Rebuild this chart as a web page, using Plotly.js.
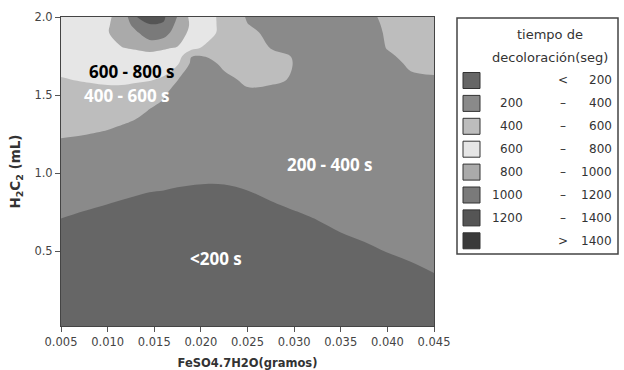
<!DOCTYPE html>
<html><head><meta charset="utf-8">
<script src="https://cdn.plot.ly/plotly-3.0.1.min.js"></script>
<style>html,body{margin:0;padding:0;background:#fff}#chart{width:624px;height:370px}</style>
</head><body><div id="chart"></div>
<script>
// FeSO4.7H2O (gramos) grid
const feso4 = [0.005,0.0075,0.010,0.0115,0.013,0.0145,0.016,0.0175,0.019,0.0205,0.0225,0.025,0.0275,0.030,0.0325,0.035,0.0375,0.040,0.0425,0.045];
// H2O2 (mL) grid
const h2o2 = [0,0.25,0.5,0.75,1.0,1.2,1.3,1.4,1.5,1.6,1.7,1.75,1.8,1.9,1.95,2.0];
// tiempo de decoloración (seg): one column per feso4 value, along h2o2
const tiempo = [
  [60,100,150,210,300,390,432,480,540,590,657,674,690,700,705,710],
  [50,90,140,198,270,380,425,475,530,614,660,680,700,720,730,740],
  [40,80,130,185,260,365,411,460,550,628,700,730,760,795,790,780],
  [35,75,125,180,245,350,396,446,540,634,720,757,795,845,850,850],
  [30,70,120,175,236,330,380,424,540,618,720,765,809,960,1078,1190],
  [25,65,115,170,229,320,360,396,436,618,700,770,828,1152,1190,1290],
  [22,62,112,165,228,310,340,370,411,570,720,770,808,1103,1180,1230],
  [20,60,110,160,223,280,300,320,340,404,622,700,790,880,940,990],
  [18,58,108,158,219,250,270,290,310,330,360,405,649,760,770,740],
  [16,56,106,156,217,245,265,285,305,325,355,405,560,708,700,680],
  [17,57,107,157,218,250,275,300,330,370,426,455,485,520,530,540],
  [19,59,109,165,228,270,300,335,375,424,450,455,455,440,404,384],
  [22,62,112,182,246,290,320,350,380,411,430,425,398,360,350,340],
  [18,58,108,197,272,310,335,360,380,395,398,395,380,350,340,330],
  [40,95,150,213,280,310,330,345,360,370,375,375,370,360,355,350],
  [50,110,165,238,290,315,330,340,350,358,362,364,365,365,365,365],
  [60,120,180,263,300,320,330,340,348,355,362,366,370,384,388,392],
  [70,130,203,265,310,330,338,346,354,362,380,392,402,404,405,406],
  [75,150,219,275,315,340,352,364,376,390,409,415,420,428,432,436],
  [80,165,245,290,325,348,360,372,384,396,410,418,425,435,440,445]
];
const levelStart = 200, levelEnd = 1400, levelStep = 200;
const bandLow  = ['', '200', '400', '600', '800', '1000', '1200', ''];
const bandSep  = ['<', '–', '–', '–', '–', '–', '–', '>'];
const bandHigh = ['200', '400', '600', '800', '1000', '1200', '1400', '1400'];
const bandColors = ['#666666','#8a8a8a','#bdbdbd','#e6e6e6','#aaaaaa','#7a7a7a','#555555','#3a3a3a'];
const legendTitle = ['tiempo de', 'decoloración(seg)'];
const regionLabels = ['600 - 800 s', '400 - 600 s', '200 - 400 s', '<200 s'];
const xTicks = [0.005,0.010,0.015,0.020,0.025,0.030,0.035,0.040,0.045];
const yTicks = [0.5,1.0,1.5,2.0];

const colorscale = bandColors.map((c, i) => [i / (bandColors.length - 1), c]);

const trace = {
  type: 'contour',
  x: feso4, y: h2o2, z: tiempo, transpose: true,
  autocontour: false,
  contours: {start: levelStart, end: levelEnd, size: levelStep, coloring: 'fill', showlines: false},
  line: {width: 0, smoothing: 1},
  colorscale: colorscale,
  showscale: false,
  hoverinfo: 'skip'
};

// plot area in pixels
const L = 61, R = 434, T = 17, B = 326;
const px2x = px => (px - L) / (R - L);
const py2y = py => (B - py) / (B - T);

const shapes = [];
const annotations = [];
const legFont = {family: 'DejaVu Sans', size: 12, color: '#333'};

shapes.push({type: 'rect', xref: 'paper', yref: 'paper',
  x0: px2x(457), x1: px2x(618), y0: py2y(254), y1: py2y(18),
  line: {color: '#444', width: 1.5}, fillcolor: 'rgba(0,0,0,0)'});

legendTitle.forEach((t, i) => {
  annotations.push({xref: 'paper', yref: 'paper', x: px2x(550), y: py2y(35 + 22 * i),
    text: t, showarrow: false, xanchor: 'center', yanchor: 'middle', font: {...legFont, size: 13}});
});

bandColors.forEach((c, i) => {
  const cy = 80.5 + 22.9 * i;
  shapes.push({type: 'rect', xref: 'paper', yref: 'paper',
    x0: px2x(463), x1: px2x(480), y0: py2y(cy + 8), y1: py2y(cy - 8),
    fillcolor: c, line: {color: '#333', width: 1}});
  if (bandLow[i]) annotations.push({xref: 'paper', yref: 'paper', x: px2x(525), y: py2y(cy),
    text: bandLow[i], showarrow: false, xanchor: 'right', yanchor: 'middle', font: legFont});
  annotations.push({xref: 'paper', yref: 'paper', x: px2x(563), y: py2y(cy),
    text: bandSep[i], showarrow: false, xanchor: 'center', yanchor: 'middle', font: legFont});
  annotations.push({xref: 'paper', yref: 'paper', x: px2x(614), y: py2y(cy),
    text: bandHigh[i], showarrow: false, xanchor: 'right', yanchor: 'middle', font: legFont});
});

const regFont = {family: 'Open Sans', size: 17};
const regPos = [[0.01256, 1.649, '#000'], [0.01213, 1.494, '#fff'], [0.0339, 1.058, '#fff'], [0.02157, 0.455, '#fff']];
regionLabels.forEach((t, i) => {
  annotations.push({xref: 'x', yref: 'y', x: regPos[i][0], y: regPos[i][1], text: '<b>' + t + '</b>',
    showarrow: false, xanchor: 'center', yanchor: 'middle', font: {...regFont, color: regPos[i][2]}});
});

const axisCommon = {
  showline: true, mirror: true, linecolor: '#444', linewidth: 1,
  ticks: 'outside', ticklen: 5, tickcolor: '#555',
  showgrid: false, zeroline: false,
  tickfont: {family: 'DejaVu Sans', size: 11.5, color: '#444'}
};

const layout = {
  width: 624, height: 370,
  margin: {l: L, r: 624 - R, t: T, b: 370 - B},
  paper_bgcolor: '#fff', plot_bgcolor: '#fff',
  showlegend: false,
  xaxis: {...axisCommon, range: [0.005, 0.045], tickvals: xTicks, tickformat: '.3f',
    title: {text: '<b>FeSO4.7H2O(gramos)</b>', font: {family: 'DejaVu Sans', size: 11.5, color: '#333'}, standoff: 11}},
  yaxis: {...axisCommon, range: [0.02, 2.0], tickvals: yTicks, tickformat: '.1f',
    title: {text: '<b>H<sub>2</sub>C<sub>2</sub> (mL)</b>', font: {family: 'DejaVu Sans', size: 13.5, color: '#333'}, standoff: 10}},
  shapes: shapes,
  annotations: annotations
};

Plotly.newPlot('chart', [trace], layout, {staticPlot: true, displayModeBar: false});
</script>
</body></html>
